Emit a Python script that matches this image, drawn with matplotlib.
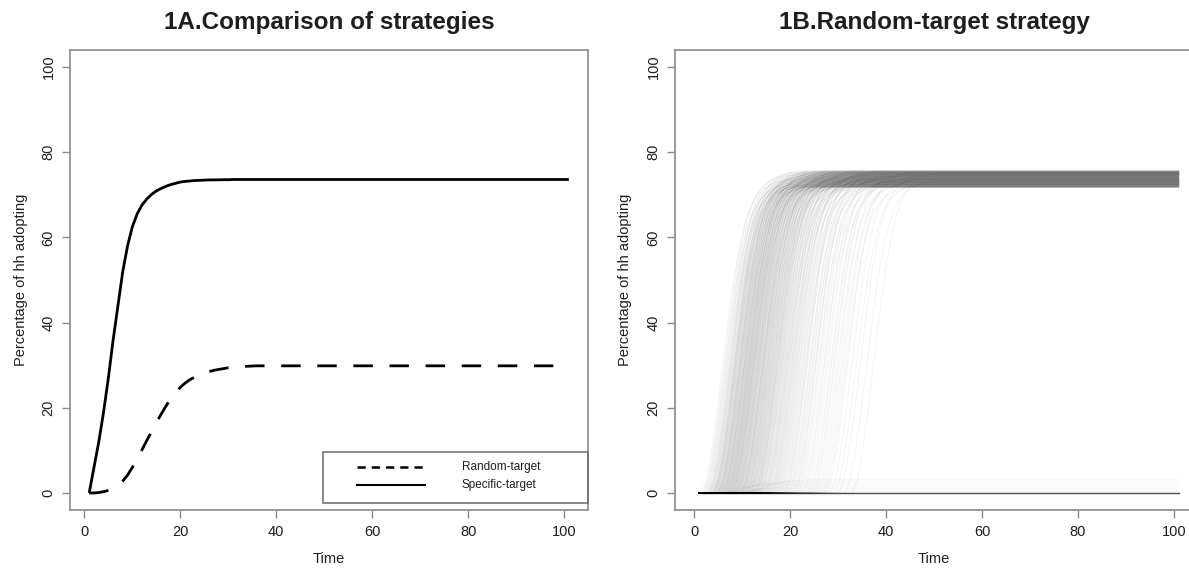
import matplotlib
matplotlib.use("Agg")
import matplotlib.pyplot as plt
from matplotlib.patches import Rectangle
from matplotlib.lines import Line2D

plt.rcParams['font.family'] = ['Liberation Sans', 'DejaVu Sans']

# ---------------- data ----------------
time = list(range(1, 102))

specific_target = [0, 6, 12, 19, 27, 36, 44, 52, 58, 62.5, 65.5, 67.6, 69.0, 70.1, 70.9,
                   71.5, 72.0, 72.4, 72.7, 73.0, 73.15, 73.25, 73.35, 73.4, 73.45, 73.5,
                   73.5, 73.52, 73.55, 73.55] + [73.6] * 71

random_target = [0, 0, 0.1, 0.3, 0.6, 1.1, 1.8, 2.8, 4.2, 6.0, 8.0, 10.1, 12.3, 14.4, 16.5,
                 18.5, 20.4, 22.1, 23.6, 24.8, 25.8, 26.6, 27.2, 27.7, 28.1, 28.5, 28.8,
                 29.0, 29.2, 29.4, 29.5, 29.6, 29.7, 29.75, 29.8] + [29.85] * 66

# panel B: shape of one simulated adoption run (values at steps after its take-off)
run_shape = [0, 3, 9, 17, 26, 35, 44, 52, 58, 63, 66.5, 68.8, 70.4, 71.5, 72.2, 72.7,
             73.1, 73.4, 73.6]

# take-off times of the simulated runs that spread
run_onsets = [
    1.5, 1.8,
    2.0, 2.2, 2.4, 2.5, 2.7, 2.9,
    3.0, 3.1, 3.2, 3.3, 3.45, 3.5, 3.6, 3.75, 3.8, 3.95,
    4.0, 4.05, 4.1, 4.2, 4.25, 4.3, 4.4, 4.5, 4.55, 4.6, 4.7, 4.8, 4.85, 4.95,
    5.0, 5.05, 5.1, 5.15, 5.2, 5.3, 5.35, 5.4, 5.5, 5.55, 5.6, 5.7, 5.75, 5.8, 5.9, 5.95,
    6.0, 6.05, 6.1, 6.15, 6.2, 6.3, 6.35, 6.4, 6.5, 6.55, 6.6, 6.65, 6.7, 6.8, 6.85, 6.9, 6.95,
    7.0, 7.05, 7.1, 7.2, 7.25, 7.3, 7.35, 7.4, 7.5, 7.55, 7.6, 7.65, 7.7, 7.8, 7.85, 7.9, 7.95,
    8.0, 8.05, 8.1, 8.2, 8.25, 8.3, 8.4, 8.45, 8.5, 8.6, 8.65, 8.7, 8.8, 8.85, 8.9, 8.95,
    9.0, 9.1, 9.15, 9.2, 9.3, 9.35, 9.4, 9.5, 9.6, 9.65, 9.7, 9.8, 9.85, 9.9, 9.95,
    10.0, 10.1, 10.15, 10.2, 10.3, 10.4, 10.45, 10.5, 10.6, 10.7, 10.75, 10.8, 10.9, 10.95,
    11.0, 11.1, 11.2, 11.25, 11.3, 11.4, 11.5, 11.6, 11.65, 11.7, 11.8, 11.9, 11.95,
    12.0, 12.1, 12.2, 12.3, 12.4, 12.5, 12.55, 12.6, 12.7, 12.8, 12.9, 12.95,
    13.0, 13.1, 13.2, 13.35, 13.4, 13.5, 13.6, 13.75, 13.8, 13.9,
    14.0, 14.1, 14.25, 14.4, 14.5, 14.6, 14.7, 14.85, 14.9,
    15.0, 15.15, 15.3, 15.4, 15.55, 15.7, 15.8, 15.95,
    16.0, 16.2, 16.3, 16.45, 16.6, 16.75, 16.9,
    17.05, 17.2, 17.4, 17.55, 17.7, 17.9,
    18.1, 18.3, 18.5, 18.7, 18.9,
    19.0, 19.25, 19.5, 19.7, 19.9,
    20.1, 20.4, 20.6, 20.9,
    21.0, 21.3, 21.6, 21.8,
    22.2, 22.5, 22.8,
    23.1, 23.5, 23.9,
    24.2, 24.6, 24.9,
    25.3, 25.8,
    26.2, 26.7,
    27.1, 27.6,
    28.4, 29.3, 30.2, 31.5, 33.0,
]

# final adoption levels of the spreading runs (cycled over the runs)
run_plateaus = [73.45, 74.55, 72.3, 75.05, 72.95, 74.05, 71.9, 75.45, 73.7, 72.55,
                74.8, 73.2, 75.3, 72.05, 74.3, 73.55, 71.8, 74.95, 72.8, 73.95,
                75.6, 72.45, 74.45, 73.05, 74.2, 72.2, 75.2, 73.3, 74.7, 72.7, 73.8]

# runs that never spread (final level) and their take-off times
stalled_levels = [0] * 20 + [0.5, 1.0, 1.5, 2.0, 2.6, 3.1]
stalled_onsets = [1] * 20 + [3, 5, 8, 4, 6, 10]

y_ticks = [0, 20, 40, 60, 80, 100]
x_ticks = [0, 20, 40, 60, 80, 100]

# ---------------- figure ----------------
W, H = 1189, 569
fig = plt.figure(figsize=(W / 100, H / 100), dpi=100)
fig.patch.set_facecolor('white')

frame_col = '#8a8a8a'
text_col = '#1e1e1e'
tick_fs = 10.5


def style(ax, xlim):
    ax.set_xlim(*xlim)
    ax.set_ylim(-4, 104)
    ax.set_xticks(x_ticks)
    ax.set_yticks(y_ticks)
    ax.set_xticklabels([str(v) for v in x_ticks])
    ax.set_yticklabels([str(v) for v in y_ticks], rotation=90, va='center')
    for s in ax.spines.values():
        s.set_color(frame_col)
        s.set_linewidth(1.2)
    ax.tick_params(axis='both', direction='out', length=6, width=1.0, color=frame_col,
                   labelsize=tick_fs, labelcolor=text_col)
    ax.tick_params(axis='x', pad=5)
    ax.tick_params(axis='y', pad=4.3)


left = fig.add_axes([70 / W, 1 - 510 / H, 518 / W, 460 / H])
right = fig.add_axes([675 / W, 1 - 510 / H, 518 / W, 460 / H])

# ---- panel A ----
left.plot(time, specific_target, color='black', lw=2.0, solid_capstyle='butt')
left.plot(time, random_target, color='black', lw=2.0, linestyle=(0, (7, 6)),
          dash_capstyle='butt')
style(left, (-3, 105))


def fx(px):
    return px / W


def fy(py):
    return 1 - py / H


# legend drawn in figure pixels
fig.add_artist(Rectangle((fx(323), fy(503)), fx(588) - fx(323), fy(452) - fy(503),
                         transform=fig.transFigure, fill=False, edgecolor='#6a6a6a', lw=1.1))
fig.add_artist(Line2D([fx(357), fx(425)], [fy(467), fy(467)], transform=fig.transFigure,
                      color='black', lw=1.8, linestyle=(0, (3.3, 2.4))))
fig.add_artist(Line2D([fx(357), fx(425)], [fy(485), fy(485)], transform=fig.transFigure,
                      color='black', lw=1.5))
fig.text(fx(462), fy(467), 'Random-target', fontsize=8.5, color=text_col, ha='left', va='center')
fig.text(fx(462), fy(485), 'Specific-target', fontsize=8.5, color=text_col, ha='left', va='center')

# ---- panel B ----
alpha = 0.04
for i, onset in enumerate(run_onsets):
    p = run_plateaus[i % len(run_plateaus)]
    xs = [1] + [onset + k for k in range(len(run_shape))] + [101]
    ys = [0] + [v * p / run_shape[-1] for v in run_shape] + [p]
    right.plot(xs, ys, color='black', alpha=alpha, lw=0.9)
for lvl, onset in zip(stalled_levels, stalled_onsets):
    xs = [1] + [onset + k for k in range(len(run_shape))] + [101]
    ys = [0] + [v * lvl / run_shape[-1] for v in run_shape] + [lvl]
    right.plot(xs, ys, color='black', alpha=0.03 if lvl > 0 else 0.05, lw=0.9)
style(right, (-4, 104))

# ---- titles and labels ----
fig.text(fx(329), fy(29), '1A.Comparison of strategies', fontsize=17.5, fontweight='bold',
         color=text_col, ha='center', va='baseline')
fig.text(fx(934), fy(29), '1B.Random-target strategy', fontsize=17.5, fontweight='bold',
         color=text_col, ha='center', va='baseline')
for cx in (21, 625):
    fig.text(fx(cx), fy(280), 'Percentage of hh adopting', fontsize=10.5, color=text_col,
             rotation=90, ha='center', va='center')
for cx in (329, 934):
    fig.text(fx(cx), fy(559), 'Time', fontsize=10.5, color=text_col, ha='center', va='center')

fig.savefig('out.png', dpi=100)
